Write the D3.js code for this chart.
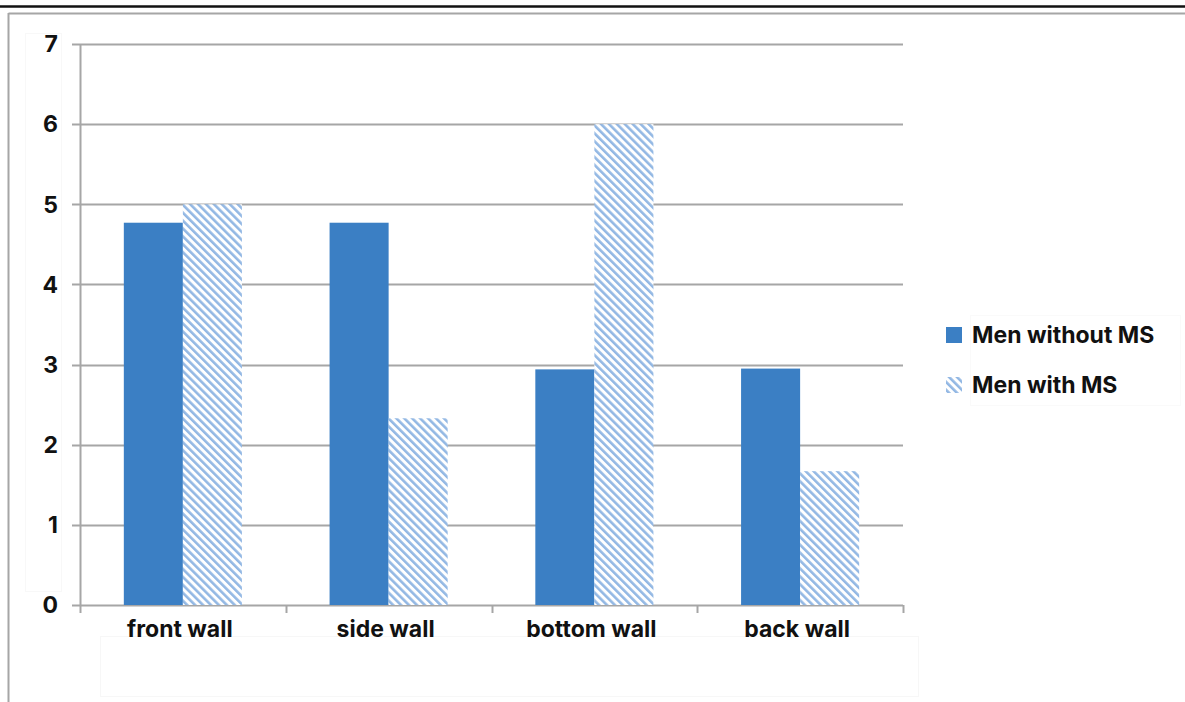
<!DOCTYPE html>
<html>
<head>
<meta charset="utf-8">
<script src="https://cdn.jsdelivr.net/npm/d3@7"></script>
<style>
  html, body { margin: 0; padding: 0; background: #fff; }
  svg { display: block; }
  text { font-family: Inter, "Open Sans", sans-serif; }
</style>
</head>
<body>
<script>
// Mean score per chamber wall, by group
const categories = ["front wall", "side wall", "bottom wall", "back wall"];
const seriesNames = ["Men without MS", "Men with MS"];
const menWithoutMS = [4.77, 4.77, 2.94, 2.95];
const menWithMS = [5.0, 2.33, 6.0, 1.67];
const yTicks = [0, 1, 2, 3, 4, 5, 6, 7];

(function draw() {
const W = 1185, H = 702;
const svg = d3.select("body").append("svg").attr("width", W).attr("height", H);

// hatch pattern for the second series (downward diagonal stripes)
const defs = svg.append("defs");
const pat = defs.append("pattern")
  .attr("id", "hatch")
  .attr("patternUnits", "userSpaceOnUse")
  .attr("width", 5.6).attr("height", 5.6)
  .attr("patternTransform", "rotate(-45)");
pat.append("rect").attr("width", 5.6).attr("height", 5.6).attr("fill", "#ffffff");
pat.append("rect").attr("x", 0).attr("width", 2.6).attr("height", 5.6).attr("fill", "#93b8e4");

// page frame lines
svg.append("line").attr("x1", 0).attr("x2", W).attr("y1", 6.5).attr("y2", 6.5)
  .attr("stroke", "#111").attr("stroke-width", 2.5);
svg.append("line").attr("x1", 8.5).attr("x2", W).attr("y1", 13.5).attr("y2", 13.5)
  .attr("stroke", "#a6a6a6").attr("stroke-width", 2);
svg.append("line").attr("x1", 8.5).attr("x2", 8.5).attr("y1", 13).attr("y2", H)
  .attr("stroke", "#a6a6a6").attr("stroke-width", 2);

// faint label boxes
svg.append("rect").attr("x", 25.5).attr("y", 33.5).attr("width", 36).attr("height", 558)
  .attr("fill", "none").attr("stroke", "#f8f8f8");
svg.append("rect").attr("x", 100.5).attr("y", 636.5).attr("width", 818).attr("height", 60)
  .attr("fill", "none").attr("stroke", "#f7f7f7");
svg.append("rect").attr("x", 970.5).attr("y", 315.5).attr("width", 210).attr("height", 90)
  .attr("fill", "none").attr("stroke", "#fafafa");

const plotLeft = 80, plotRight = 903, plotTop = 44, plotBottom = 605;
const x = d3.scaleBand().domain(categories).range([plotLeft, plotRight]).paddingInner(0).paddingOuter(0);
const y = d3.scaleLinear().domain([0, 7]).range([plotBottom, plotTop]);

// gridlines
const g = svg.append("g");
g.selectAll("line.grid").data(yTicks).join("line")
  .attr("class", "grid")
  .attr("x1", plotLeft - 8).attr("x2", plotRight)
  .attr("y1", d => Math.round(y(d)) + 0.5).attr("y2", d => Math.round(y(d)) + 0.5)
  .attr("stroke", "#a6a6a6").attr("stroke-width", 2);

// y axis line
g.append("line").attr("x1", plotLeft + 0.5).attr("x2", plotLeft + 0.5)
  .attr("y1", y(7)).attr("y2", y(0))
  .attr("stroke", "#a6a6a6").attr("stroke-width", 2);

// x axis category ticks
const bounds = categories.map(c => x(c)).concat([plotRight]);
g.selectAll("line.xt").data(bounds).join("line")
  .attr("class", "xt")
  .attr("x1", d => Math.round(d) + 0.5).attr("x2", d => Math.round(d) + 0.5)
  .attr("y1", y(0)).attr("y2", y(0) + 8)
  .attr("stroke", "#a6a6a6").attr("stroke-width", 2);

// bars
const bw = x.bandwidth() * 0.287;
const data = [menWithoutMS, menWithMS];
const fills = ["#3b7fc4", "url(#hatch)"];
data.forEach((vals, si) => {
  svg.append("g").selectAll("rect").data(categories).join("rect")
    .attr("x", (c) => x(c) + x.bandwidth() / 2 - bw + si * bw)
    .attr("width", bw)
    .attr("y", (c, i) => y(vals[i]))
    .attr("height", (c, i) => y(0) - y(vals[i]))
    .attr("fill", fills[si]);
});

// y tick labels
svg.append("g").selectAll("text").data(yTicks).join("text")
  .attr("x", 58).attr("y", d => y(d))
  .attr("dy", "0.36em")
  .attr("text-anchor", "end")
  .attr("font-size", 23).attr("font-weight", 700).attr("fill", "#111")
  .text(d => d);

// category labels
svg.append("g").selectAll("text").data(categories).join("text")
  .attr("x", c => x(c) + x.bandwidth() / 2 - 3)
  .attr("y", 629).attr("dy", "0.36em")
  .attr("text-anchor", "middle")
  .attr("font-size", 23).attr("font-weight", 700).attr("fill", "#111")
  .text(c => c);

// legend
const leg = svg.append("g");
const legY = [335, 385];
seriesNames.forEach((name, i) => {
  leg.append("rect").attr("x", 946).attr("y", legY[i] - 8).attr("width", 16).attr("height", 16)
    .attr("fill", fills[i]);
  leg.append("text").attr("x", 972).attr("y", legY[i]).attr("dy", "0.36em")
    .attr("font-size", 23).attr("font-weight", 700).attr("fill", "#111")
    .text(name);
});
})();
</script>
</body>
</html>
